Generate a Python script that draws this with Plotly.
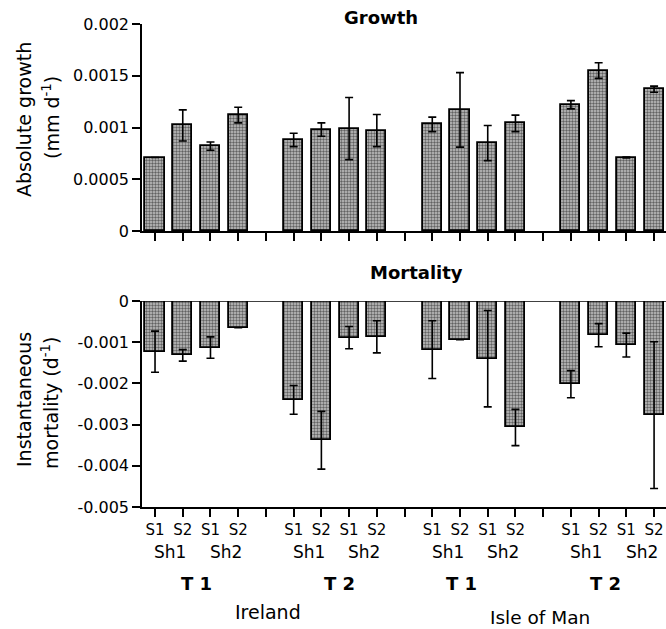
import plotly.graph_objects as go

# ---- data ----
group_names = ["Ireland T1", "Ireland T2", "Isle of Man T1", "Isle of Man T2"]
bar_labels = ["S1", "S2", "S1", "S2"]

growth = [0.00071, 0.00102, 0.00082, 0.00112,
          0.00088, 0.00098, 0.00099, 0.00097,
          0.00103, 0.00117, 0.00085, 0.00104,
          0.00122, 0.00155, 0.00071, 0.00137]
growth_err = [0.0, 0.00015, 0.00004, 0.000075,
              0.000065, 0.000065, 0.0003, 0.000155,
              0.00007, 0.00036, 0.00017, 0.00008,
              0.00004, 0.000075, 0.000005, 0.00003]

mortality = [-0.00123, -0.00132, -0.00113, -0.00065,
             -0.0024, -0.00338, -0.00089, -0.00087,
             -0.00118, -0.00094, -0.0014, -0.00307,
             -0.00202, -0.00083, -0.00107, -0.00277]
mortality_err = [0.0005, 0.00014, 0.00026, 0.0,
                 0.00035, 0.0007, 0.00027, 0.00039,
                 0.0007, 0.0, 0.00117, 0.00044,
                 0.00033, 0.00028, 0.00029, 0.00178]

growth_ticks = [0, 0.0005, 0.001, 0.0015, 0.002]
growth_ticktext = ["0", "0.0005", "0.001", "0.0015", "0.002"]
mort_ticks = [0, -0.001, -0.002, -0.003, -0.004, -0.005]
mort_ticktext = ["0", "-0.001", "-0.002", "-0.003", "-0.004", "-0.005"]

# ---- positions (groups of 4 with one empty slot between groups) ----
n_per = len(bar_labels)
xs = [g * (n_per + 1) + i for g in range(len(group_names)) for i in range(n_per)]
x_ticktext = [bar_labels[i] for g in range(len(group_names)) for i in range(n_per)]

FONT = "DejaVu Sans, Arial, sans-serif"
bar_marker = dict(
    color="#c0c0c0",
    line=dict(color="black", width=1.8),
    pattern=dict(shape=".", fgcolor="#000000", bgcolor="#c4c4c4", size=3, solidity=0.5),
)
err_style = dict(type="data", visible=True, color="black", thickness=1.6, width=4)

fig = go.Figure()
fig.add_trace(go.Bar(x=xs, y=growth, width=0.69, marker=bar_marker,
                     error_y=dict(array=growth_err, **err_style),
                     xaxis="x", yaxis="y", showlegend=False, hoverinfo="skip"))
fig.add_trace(go.Bar(x=xs, y=mortality, width=0.69, marker=bar_marker,
                     error_y=dict(array=mortality_err, **err_style),
                     xaxis="x2", yaxis="y2", showlegend=False, hoverinfo="skip"))

W, H = 666, 629
ML, MR, MT, MB = 142, 0, 24, 122
ph = H - MT - MB
def py(p):
    return (H - MB - p) / ph
def px(p):
    return (p - ML) / (W - ML - MR)

xr = [-0.47, 18.43]
axis_common = dict(showline=True, linecolor="black", linewidth=1.6,
                   ticks="outside", ticklen=8, tickwidth=1.6, tickcolor="black",
                   showgrid=False, zeroline=False)
minor_ticks = dict(tick0=0, dtick=1, ticks="outside", ticklen=8, tickwidth=1.6,
                   tickcolor="black", showgrid=False)

fig.update_layout(
    width=W, height=H,
    margin=dict(l=ML, r=MR, t=MT, b=MB),
    paper_bgcolor="white", plot_bgcolor="white",
    font=dict(family=FONT, color="black", size=16),
    bargap=0,
    xaxis=dict(domain=[0, 1], range=xr, anchor="y", tickmode="linear", tick0=0, dtick=1,
               showticklabels=False, **axis_common),
    yaxis=dict(domain=[py(231), 1], range=[0, 0.002], anchor="x", tickmode="array",
               tickvals=growth_ticks, ticktext=growth_ticktext,
               tickfont=dict(size=16), **axis_common),
    xaxis2=dict(domain=[0, 1], range=xr, anchor="y2", tickmode="array",
                tickvals=xs, ticktext=x_ticktext, minor=minor_ticks,
                tickfont=dict(size=15), **axis_common),
    yaxis2=dict(domain=[0, py(301)], range=[-0.005, 0], anchor="x2", tickmode="array",
                tickvals=mort_ticks, ticktext=mort_ticktext,
                tickfont=dict(size=16), **axis_common),
)

# zero line of mortality panel
fig.add_shape(type="line", xref="x2 domain", yref="y2", x0=0, x1=1, y0=0, y1=0,
              line=dict(color="black", width=1.6))

ann = []
ann.append(dict(text="<b>Growth</b>", x=px(381), y=py(18), xref="paper", yref="paper",
                showarrow=False, font=dict(size=18), xanchor="center", yanchor="middle"))
ann.append(dict(text="<b>Mortality</b>", x=px(416), y=py(272), xref="paper", yref="paper",
                showarrow=False, font=dict(size=18), xanchor="center", yanchor="middle"))
# y titles
ann.append(dict(text="Absolute growth", x=px(24), y=py(120), xref="paper", yref="paper",
                textangle=-90, showarrow=False, font=dict(size=19), xanchor="center", yanchor="middle"))
ann.append(dict(text="(mm d<sup>-1</sup>)", x=px(51), y=py(118), xref="paper", yref="paper",
                textangle=-90, showarrow=False, font=dict(size=19), xanchor="center", yanchor="middle"))
ann.append(dict(text="Instantaneous", x=px(24), y=py(400), xref="paper", yref="paper",
                textangle=-90, showarrow=False, font=dict(size=19), xanchor="center", yanchor="middle"))
ann.append(dict(text="mortality (d<sup>-1</sup>)", x=px(50), y=py(403), xref="paper", yref="paper",
                textangle=-90, showarrow=False, font=dict(size=19), xanchor="center", yanchor="middle"))
# Sh labels
for g in range(len(group_names)):
    for k, lab in enumerate(["Sh1", "Sh2"]):
        ann.append(dict(text=lab, x=g * (n_per + 1) + 0.55 + 2 * k, y=py(552), xref="x2", yref="paper",
                        showarrow=False, font=dict(size=17), xanchor="center", yanchor="middle"))
# T labels
t_pos = [1.5, 6.65, 11.05, 16.25]
t_txt = ["T1", "T2", "T1", "T2"]
for xp, tt in zip(t_pos, t_txt):
    ann.append(dict(text="<b>" + tt[0] + " " + tt[1] + "</b>", x=xp, y=py(583), xref="x2", yref="paper",
                    showarrow=False, font=dict(size=18), xanchor="center", yanchor="middle"))
ann.append(dict(text="Ireland", x=4.08, y=py(612), xref="x2", yref="paper",
                showarrow=False, font=dict(size=19), xanchor="center", yanchor="middle"))
ann.append(dict(text="Isle of Man", x=13.87, y=py(617), xref="x2", yref="paper",
                showarrow=False, font=dict(size=18.5), xanchor="center", yanchor="middle"))
fig.update_layout(annotations=ann)

fig.write_html("out.html", config={"displayModeBar": False},
               post_script="document.body.style.margin='0';document.body.style.overflow='hidden';")
